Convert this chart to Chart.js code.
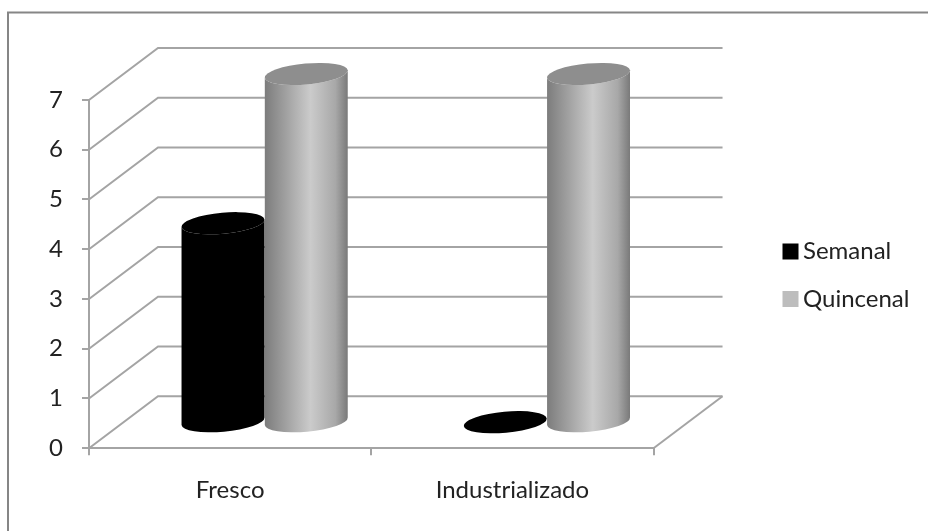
<!DOCTYPE html>
<html>
<head>
<meta charset="utf-8">
<style>
  html, body { margin: 0; padding: 0; background: #fff; }
  #wrap { width: 928px; height: 531px; }
</style>
<script src="https://cdn.jsdelivr.net/npm/chart.js@4"></script>
</head>
<body>
<div id="wrap"><canvas id="myChart" width="928" height="531"></canvas></div>
<script>
const categorias = ['Fresco', 'Industrializado'];
const semanal = [4, 0];
const quincenal = [7, 7];
const ticksY = [0, 1, 2, 3, 4, 5, 6, 7];

// how far the back wall sits behind the front plane
const depthX = 69;
const depthY = -52;
const lineColor = '#a4a4a4';

// bars are drawn as cylinders halfway into the floor
Chart.BarElement.prototype.draw = function (ctx) {
  const cx = this.x + depthX / 2;
  const top = this.y + depthY / 2;
  const base = this.base + depthY / 2;
  const rx = this.width / 2;
  const ry = 10.5;
  const rot = -0.09;
  const dark = this.options.backgroundColor === '#000000';

  const grad = ctx.createLinearGradient(cx - rx, 0, cx + rx, 0);
  if (dark) {
    grad.addColorStop(0, '#000000');
    grad.addColorStop(1, '#000000');
  } else {
    grad.addColorStop(0, '#7c7c7c');
    grad.addColorStop(0.55, '#cbcbcb');
    grad.addColorStop(0.85, '#a8a8a8');
    grad.addColorStop(1, '#797979');
  }

  ctx.save();
  ctx.fillStyle = grad;
  ctx.beginPath();
  ctx.ellipse(cx, base, rx, ry, rot, 0, Math.PI);
  ctx.ellipse(cx, top, rx, ry, rot, Math.PI, 0, true);
  ctx.closePath();
  ctx.fill();

  ctx.fillStyle = dark ? '#000000' : '#8e8e8e';
  ctx.beginPath();
  ctx.ellipse(cx, top, rx, ry, rot, 0, Math.PI * 2);
  ctx.fill();
  ctx.restore();
};

const paredes = {
  id: 'paredes',
  beforeDraw(chart) {
    const ctx = chart.ctx;
    // outer frame runs off the right and bottom of the picture
    ctx.save();
    ctx.strokeStyle = '#868686';
    ctx.lineWidth = 2;
    ctx.beginPath();
    ctx.moveTo(8, 531);
    ctx.lineTo(8, 12.5);
    ctx.lineTo(928, 12.5);
    ctx.stroke();
    ctx.restore();
  },
  beforeDatasetsDraw(chart) {
    const ctx = chart.ctx;
    const area = chart.chartArea;
    const y = chart.scales.y;
    ctx.save();
    ctx.strokeStyle = lineColor;
    ctx.lineWidth = 2;
    ticksY.forEach(v => {
      const py = y.getPixelForValue(v);
      ctx.beginPath();
      ctx.moveTo(area.left, py);
      ctx.lineTo(area.left + depthX, py + depthY);
      ctx.lineTo(area.right + depthX, py + depthY);
      ctx.stroke();
    });
    // floor edge on the right
    const py0 = y.getPixelForValue(0);
    ctx.beginPath();
    ctx.moveTo(area.right, py0);
    ctx.lineTo(area.right + depthX, py0 + depthY);
    ctx.stroke();
    ctx.restore();
  },
  afterLayout(chart) {
    // keep the legend off to the right of the walls
    const leg = chart.legend;
    const w = leg.right - leg.left;
    const h = leg.bottom - leg.top;
    leg.left = 766.5;
    leg.right = 766.5 + w;
    leg.top = 216;
    leg.bottom = 216 + h;
  }
};

new Chart(document.getElementById('myChart'), {
  type: 'bar',
  plugins: [paredes],
  data: {
    labels: categorias,
    datasets: [
      { label: 'Semanal', data: semanal, backgroundColor: '#000000', borderColor: '#000000', borderWidth: 15, clip: false },
      { label: 'Quincenal', data: quincenal, backgroundColor: '#bdbdbd', borderColor: '#bdbdbd', borderWidth: 15, clip: false }
    ]
  },
  options: {
    responsive: false,
    animation: false,
    events: [],
    categoryPercentage: 0.59,
    barPercentage: 1,
    layout: { padding: { top: 100, right: 121.5, bottom: 5, left: 0 } },
    plugins: {
      title: { display: false },
      tooltip: { enabled: false },
      legend: {
        position: 'right',
        align: 'start',
        labels: {
          boxWidth: 1,
          boxHeight: 1,
          padding: 23.5,
          color: '#222222',
          font: { family: 'Lato', size: 24 }
        }
      }
    },
    scales: {
      x: {
        grid: { display: true, offset: true, drawOnChartArea: false, drawTicks: true, tickLength: 7, color: lineColor, lineWidth: 2 },
        border: { color: lineColor, width: 2 },
        ticks: { color: '#222222', padding: 21, font: { family: 'Lato', size: 24 } }
      },
      y: {
        min: 0,
        max: 7,
        afterFit(scale) { scale.width = 89; },
        afterBuildTicks(scale) { scale.ticks = ticksY.map(v => ({ value: v })); },
        grid: { display: true, drawOnChartArea: false, drawTicks: true, tickLength: 7, color: lineColor, lineWidth: 2 },
        border: { color: lineColor, width: 2 },
        ticks: { color: '#222222', padding: 19, font: { family: 'Lato', size: 24 } }
      }
    }
  }
});
</script>
</body>
</html>
